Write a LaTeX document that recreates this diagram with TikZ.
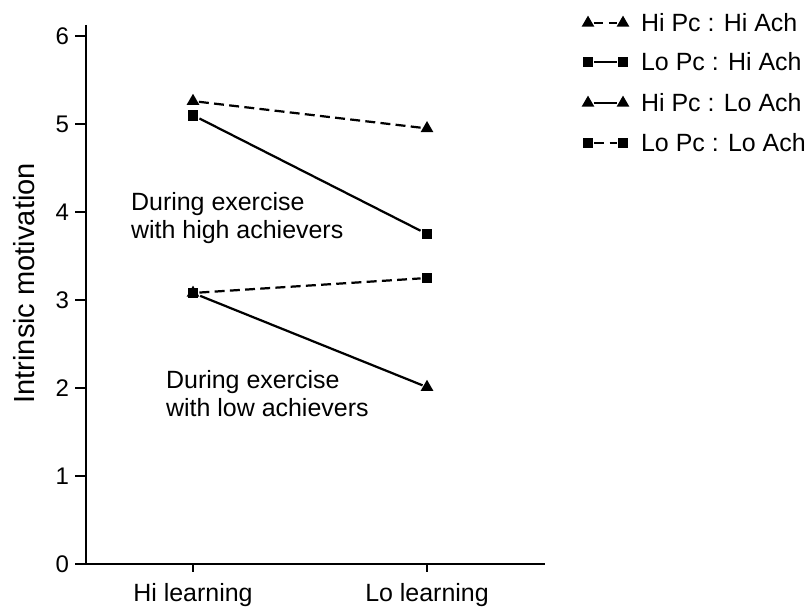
\documentclass[tikz,border=0pt]{standalone}
\usepackage{fontspec}
\setmainfont{Liberation Sans}
\usetikzlibrary{positioning,shapes.geometric}

\begin{document}
\begin{tikzpicture}[x=0.03cm,y=2.64cm,line width=1.9pt,
  txt/.style={font=\fontsize{21.3}{23.9}\selectfont,inner sep=0pt},
  ticklbl/.style={font=\fontsize{20.5}{24}\selectfont,inner sep=0pt,anchor=east},
  tri/.style={regular polygon,regular polygon sides=3,fill=black,inner sep=0pt,minimum size=0.44cm},
  sq/.style={rectangle,fill=black,inner sep=0pt,minimum size=0.32cm},
  dashline/.style={dash pattern=on 8.5pt off 4.5pt}]
\useasboundingbox (-86,-0.511) rectangle (726,6.409);
\draw (0,6.125) -- (0,0) -- (459,0);
\foreach \v in {0,...,6}{
  \draw (-11,\v) -- (0,\v);
  \node[ticklbl] (tick\v) at (-16,\v) {\v};}
\foreach \x/\n/\t in {107/hi/Hi learning,341/lo/Lo learning}{
  \draw (\x,0) -- (\x,-0.09);
  \node[txt] (x\n) at (\x,-0.352) {\t};}
\node[font=\fontsize{24.8}{28}\selectfont,inner sep=0pt,rotate=90] (ylabel) at (-62,3.19) {Intrinsic motivation};
\node[tri] (hh1) at (107,5.26) {};
\node[tri] (hh2) at (341,4.95) {};
\node[sq] (lh1) at (107,5.10) {};
\node[sq] (lh2) at (341,3.75) {};
\node[tri] (hl1) at (107,3.08) {};
\node[tri] (hl2) at (341,2.01) {};
\node[sq] (ll1) at (107,3.08) {};
\node[sq] (ll2) at (341,3.25) {};
\draw[dashline] (hh1) -- (hh2);
\draw (lh1) -- (lh2);
\draw (hl1) -- (hl2);
\draw[dashline] (ll1) -- (ll2);
\node[txt,align=left,anchor=west] (highach) at (44,3.93) {During exercise\\with high achievers};
\node[txt,align=left,anchor=west] (lowach) at (79,1.94) {During exercise\\with low achievers};
\foreach \n/\y/\m/\s/\t in {1/6.148/tri/dashline/Hi Pc : Hi Ach,2/5.705/sq/solid/Lo Pc : Hi Ach,
    3/5.239/tri/solid/Hi Pc : Lo Ach,4/4.784/sq/dashline/Lo Pc : Lo Ach}{
  \node[\m] (ka\n) at (502,\y) {};
  \node[\m] (kb\n) at (537,\y) {};
  \draw[\s] (ka\n) -- (kb\n);
  \node[txt,anchor=west] (kt\n) at (554,\y) {\t};}
\end{tikzpicture}
\end{document}
